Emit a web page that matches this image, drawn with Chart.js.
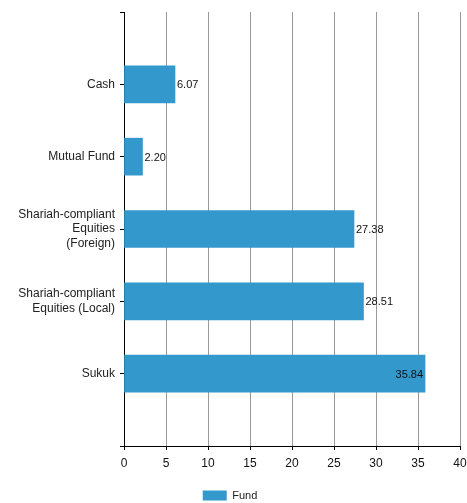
<!DOCTYPE html>
<html>
<head>
<meta charset="utf-8">
<script src="https://cdn.jsdelivr.net/npm/chart.js@4/dist/chart.umd.min.js"></script>
<style>
  html, body { margin: 0; padding: 0; background: #fff; }
  #wrap { width: 467px; height: 503px; position: relative; }
</style>
</head>
<body>
<div id="wrap"><canvas id="c"></canvas></div>
<script>
const categories = [
  'Cash',
  'Mutual Fund',
  ['Shariah-compliant', 'Equities', '(Foreign)'],
  ['Shariah-compliant', 'Equities (Local)'],
  'Sukuk'
];
const fundValues = [6.07, 2.20, 27.38, 28.51, 35.84];
const seriesName = 'Fund';
const xTicks = { min: 0, max: 40, step: 5 };

// pad with empty slots at both ends so categories sit at band boundaries
const labels = [''].concat(categories, ['']);
const data = [null].concat(fundValues, [null]);

const FONT = '"Liberation Sans", Arial, sans-serif';

const valueLabels = {
  id: 'valueLabels',
  afterDatasetsDraw(chart) {
    const ctx = chart.ctx;
    const meta = chart.getDatasetMeta(0);
    const area = chart.chartArea;
    ctx.save();
    ctx.font = '11px ' + FONT;
    ctx.fillStyle = '#111';
    ctx.textBaseline = 'middle';
    meta.data.forEach((bar, i) => {
      const v = data[i];
      if (v === null || v === undefined) return;
      const txt = v.toFixed(2);
      const w = ctx.measureText(txt).width;
      if (bar.x + w + 2 > area.right - 20) {
        ctx.textAlign = 'right';
        ctx.fillText(txt, bar.x - 2, bar.y + 1);
      } else {
        ctx.textAlign = 'left';
        ctx.fillText(txt, bar.x + 2, bar.y + 1);
      }
    });
    ctx.restore();
  }
};

new Chart(document.getElementById('c'), {
  type: 'bar',
  data: {
    labels: labels,
    datasets: [{
      label: seriesName,
      data: data,
      backgroundColor: '#3399CC',
      borderWidth: 0,
      barThickness: 37
    }]
  },
  plugins: [valueLabels],
  options: {
    indexAxis: 'y',
    responsive: true,
    maintainAspectRatio: false,
    animation: false,
    layout: { padding: { top: 12, left: 0, right: 7, bottom: -8 } },
    plugins: {
      legend: {
        position: 'bottom',
        labels: {
          boxWidth: 24,
          boxHeight: 10,
          padding: 2,
          color: '#222',
          font: { family: FONT, size: 11 }
        }
      },
      tooltip: { enabled: false }
    },
    scales: {
      x: {
        type: 'linear',
        min: xTicks.min,
        max: xTicks.max,
        ticks: {
          stepSize: xTicks.step,
          color: '#111',
          padding: 6,
          font: { family: FONT, size: 12 }
        },
        grid: {
          color: '#999',
          tickColor: '#000',
          tickLength: 4,
          lineWidth: 1
        },
        border: { color: '#000', width: 1 },
        afterFit(scale) { scale.height = 42; scale.paddingRight = 0; scale.paddingLeft = 0; }
      },
      y: {
        type: 'category',
        offset: false,
        ticks: {
          color: '#222',
          padding: 5,
          autoSkip: false,
          font: { family: FONT, size: 12 }
        },
        grid: {
          offset: false,
          drawOnChartArea: false,
          tickColor: '#000',
          tickLength: 4
        },
        border: { color: '#000', width: 1 },
        afterFit(scale) { scale.width = 124; scale.paddingTop = 0; scale.paddingBottom = 0; }
      }
    }
  }
});
</script>
</body>
</html>
